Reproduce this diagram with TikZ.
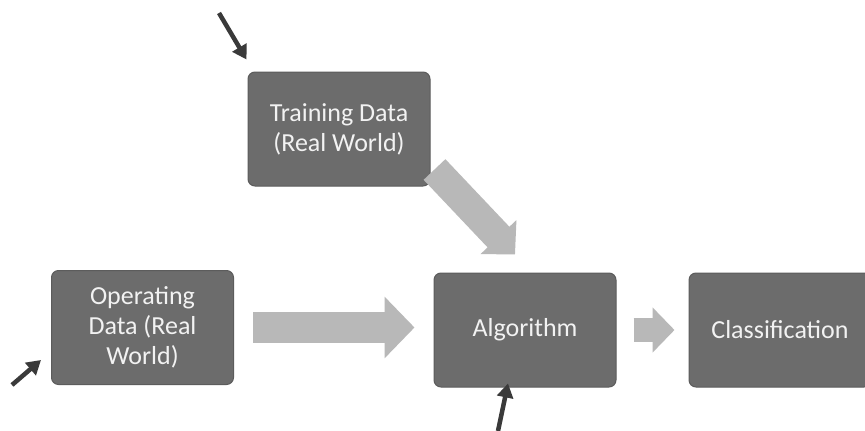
\documentclass[tikz,border=0pt]{standalone}
\usepackage{fontspec}
\setmainfont{Carlito}
\usetikzlibrary{arrows.meta}
\definecolor{boxfill}{HTML}{6C6C6C}
\definecolor{boxline}{HTML}{5C5C5C}
\definecolor{boxtext}{HTML}{F2F2F2}
\definecolor{bigarrow}{HTML}{B8B8B8}
\definecolor{smallarrow}{HTML}{3A3A3A}
\begin{document}
\begin{tikzpicture}[x=1pt,y=-1pt,
  procbox/.style={draw=boxline, line width=1pt, fill=boxfill, rounded corners=7pt,
    minimum width=182pt, minimum height=114pt, align=center, text=boxtext,
    font=\fontsize{26}{30}\selectfont, inner sep=0pt},
  flowarrow/.style={draw=bigarrow, line width=31pt,
    -{Triangle[length=30pt,width=60pt]}},
  pointer/.style={draw=smallarrow, line width=4.5pt,
    -{Triangle[length=14pt,width=16pt]}}]
\clip (0,0) rectangle (865,431);
\fill[white] (0,0) rectangle (865,431);
\node[procbox] (train) at (339,129) {Training Data\\(Real World)};
\node[procbox] (oper) at (142.5,327.5) {Operating\\Data (Real\\World)};
\node[procbox] (algo) at (525,330) {Algorithm};
\node[procbox] (class) at (780,330) {Classification};
% big flow arrows
\draw[flowarrow] ([xshift=19pt]oper.east) -- ([xshift=-19pt]algo.west |- oper.east);
\draw[flowarrow, line width=30pt, -{Triangle[length=24pt,width=48pt]}]
  ([shift={(4,-17)}]train.south east) -- ([shift={(-10,-18)}]algo.north);
\draw[flowarrow, line width=24pt, -{Triangle[length=22pt,width=44pt]}]
  ([xshift=17pt]algo.east) -- ([xshift=-14pt]class.west);
% small pointer arrows
\coordinate (ptop) at (219,13);
\coordinate (pleft) at (12,385);
\coordinate (pbot) at (498,431);
\draw[pointer] (ptop) -- ([shift={(-1,-12)}]train.north west);
\draw[pointer] (pleft) -- ([shift={(-10,-25)}]oper.south west);
\draw[pointer] (pbot) -- ([shift={(-17,-4)}]algo.south);
\end{tikzpicture}
\end{document}
